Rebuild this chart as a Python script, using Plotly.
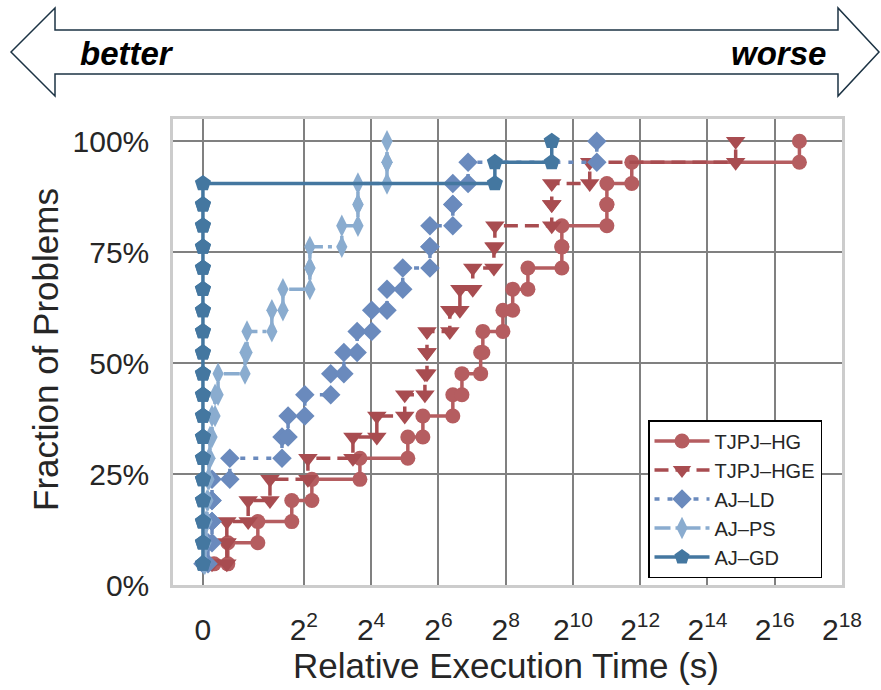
import math
import plotly.graph_objects as go

# ---------------- data (relative execution times, sorted per solver) ----------------
series_names = ["TJPJ\u2013HG", "TJPJ\u2013HGE", "AJ\u2013LD", "AJ\u2013PS", "AJ\u2013GD"]

tjpj_hg = [0.33, 0.74, 1.55, 3.12, 4.72, 12.7, 34.1, 46.5, 86.2, 104, 153, 160,
           242, 296, 405, 815, 815, 2062, 2062, 3444, 109000]
tjpj_hge = [0.27, 0.71, 0.71, 1.27, 1.99, 4.35, 11.0, 18.0, 32.0, 48.5, 50.6, 50.6,
            81.0, 99.7, 130, 201, 205, 662, 662, 1448, 29300]
aj_ld = [0, 0.15, 0.27, 0.27, 0.27, 0.80, 2.55, 2.89, 4.08, 6.96, 9.13, 12.0,
         16.2, 22.2, 30.7, 53.8, 53.8, 86.2, 86.2, 118, 1675]
aj_ps = [0.03, 0.06, 0.09, 0.12, 0.15, 0.18, 0.21, 0.27, 0.36, 0.45, 1.19, 1.24,
         2.07, 2.60, 4.53, 4.53, 8.75, 12.2, 12.2, 22.2, 22.2]
aj_gd = [0, 0, 0, 0, 0, 0, 0, 0, 0, 0, 0, 0, 0, 0, 0, 0, 0, 0, 0, 205, 662]

tick_values = [0, 2**2, 2**4, 2**6, 2**8, 2**10, 2**12, 2**14, 2**16, 2**18]
tick_labels = ["0", "2<sup>2</sup>", "2<sup>4</sup>", "2<sup>6</sup>", "2<sup>8</sup>",
               "2<sup>10</sup>", "2<sup>12</sup>", "2<sup>14</sup>", "2<sup>16</sup>",
               "2<sup>18</sup>"]
y_ticks = [0, 0.25, 0.5, 0.75, 1.0]
y_labels = ["0%", "25%", "50%", "75%", "100%"]

# ---------------- styles ----------------
colors = ["#b55d60", "#a84c50", "#6a8abd", "#8aaccf", "#4477a0"]
symbols = ["circle", "triangle-down", "diamond", "diamond-tall", "pentagon"]
msizes = [15, 17, 15, 16, 17]
dashes = ["solid", "14px,7px", "5px,8px", "16px,5px,4px,5px", "solid"]
FONT = "Liberation Sans, Arial"


def symlog2(v):
    # symmetric-log axis with base 2: linear below 1, logarithmic above
    return v if v < 1 else 1.0 + math.log2(v)


def staircase(times):
    n = len(times)
    xs, ys = [symlog2(times[0])], [1.0 / n]
    for i in range(1, n):
        u = symlog2(times[i])
        xs += [u, u]
        ys += [i / n, (i + 1) / n]
    return xs, ys


fig = go.Figure()
all_series = [tjpj_hg, tjpj_hge, aj_ld, aj_ps, aj_gd]
for k, (name, data) in enumerate(zip(series_names, all_series)):
    xs, ys = staircase(data)
    fig.add_trace(go.Scatter(
        x=xs, y=ys, name=name, mode="lines+markers",
        line=dict(color=colors[k], width=3.5, dash=dashes[k]),
        marker=dict(symbol=symbols[k], size=msizes[k], color=colors[k],
                    line=dict(width=0)),
    ))

# ---------------- layout ----------------
L, R, T, B = 173, 39, 119, 105
W, H = 881, 690
PW, PH = W - L - R, H - T - B


def px(xp):
    return (xp - L) / PW


def py(yp):
    return (H - B - yp) / PH


axis_common = dict(showgrid=True, gridcolor="#808080", gridwidth=2,
                   showline=True, mirror=True, linecolor="#cccccc", linewidth=2.5,
                   zeroline=False, ticks="",
                   tickfont=dict(family=FONT, size=30, color="#262626"))

fig.update_layout(
    width=W, height=H,
    margin=dict(l=L, r=R, t=T, b=B),
    plot_bgcolor="white", paper_bgcolor="white",
    xaxis=dict(range=[-0.89, 19.0],
               tickvals=[symlog2(v) for v in tick_values], ticktext=tick_labels,
               ticklabelstandoff=16, **axis_common),
    yaxis=dict(range=[0, 1.05], tickvals=y_ticks, ticktext=y_labels,
               ticklabelstandoff=15, **axis_common),
    legend=dict(x=px(648), y=py(420), xanchor="left", yanchor="top",
                bgcolor="white", bordercolor="black", borderwidth=1.5,
                font=dict(family=FONT, size=20, color="#262626"),
                itemwidth=55),
    showlegend=True,
)

# axis titles
fig.add_annotation(text="Relative Execution Time (s)", xref="paper", yref="paper",
                   x=px(506), y=py(665), xanchor="center", yanchor="middle",
                   showarrow=False, font=dict(family=FONT, size=35, color="#262626"))
fig.add_annotation(text="Fraction of Problems", xref="paper", yref="paper",
                   x=px(45), y=py(350), xanchor="center", yanchor="middle",
                   showarrow=False, textangle=-90,
                   font=dict(family=FONT, size=35, color="#262626"))

# double-headed "better / worse" arrow
arrow_pts = [(11, 52), (55, 8), (55, 30), (838, 30), (838, 8), (879, 52),
             (838, 96), (838, 74), (55, 74), (55, 96)]
path = "M " + " L ".join(f"{px(a):.5f},{py(b):.5f}" for a, b in arrow_pts) + " Z"
fig.add_shape(type="path", path=path, xref="paper", yref="paper",
              line=dict(color="#1c3344", width=1.5), fillcolor="white", layer="above")
fig.add_annotation(text="<b><i>better</i></b>", xref="paper", yref="paper",
                   x=px(127), y=py(54), xanchor="center", yanchor="middle",
                   showarrow=False, font=dict(family=FONT, size=33, color="black"))
fig.add_annotation(text="<b><i>worse</i></b>", xref="paper", yref="paper",
                   x=px(778), y=py(54), xanchor="center", yanchor="middle",
                   showarrow=False, font=dict(family=FONT, size=33, color="black"))

fig.write_html("out.html", config={"displayModeBar": False},
               post_script="document.body.style.margin='0';")
